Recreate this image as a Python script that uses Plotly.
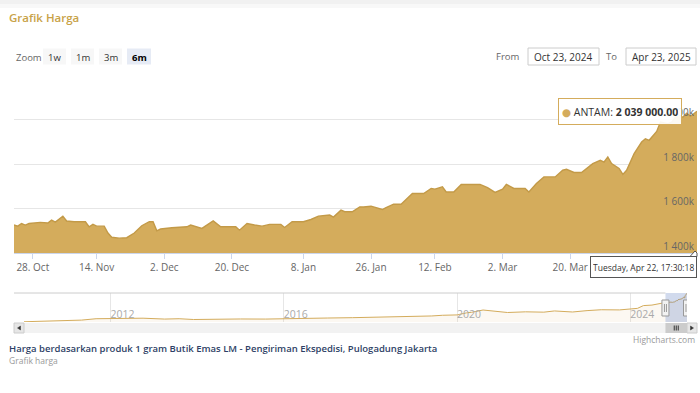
import plotly.graph_objects as go
import pandas as pd

# ---------------- data ----------------
main_dates = [
    "2024-10-23", "2024-10-24", "2024-10-25", "2024-10-26", "2024-10-27", "2024-10-30",
    "2024-11-01", "2024-11-02", "2024-11-03", "2024-11-05", "2024-11-06", "2024-11-08",
    "2024-11-11", "2024-11-12", "2024-11-13", "2024-11-14", "2024-11-16", "2024-11-17",
    "2024-11-18", "2024-11-20", "2024-11-22", "2024-11-24", "2024-11-26", "2024-11-28",
    "2024-11-29", "2024-11-30", "2024-12-01", "2024-12-04", "2024-12-08", "2024-12-09",
    "2024-12-12", "2024-12-15", "2024-12-17", "2024-12-21", "2024-12-22", "2024-12-24",
    "2024-12-26", "2024-12-28", "2024-12-30", "2025-01-02", "2025-01-03", "2025-01-05",
    "2025-01-08", "2025-01-10", "2025-01-12", "2025-01-15", "2025-01-16", "2025-01-18",
    "2025-01-19", "2025-01-21", "2025-01-23", "2025-01-24", "2025-01-26", "2025-01-29",
    "2025-01-30", "2025-02-01", "2025-02-03", "2025-02-05", "2025-02-06", "2025-02-09",
    "2025-02-11", "2025-02-12", "2025-02-14", "2025-02-15", "2025-02-17", "2025-02-19",
    "2025-02-24", "2025-02-26", "2025-02-28", "2025-03-02", "2025-03-03", "2025-03-05",
    "2025-03-08", "2025-03-09", "2025-03-11", "2025-03-13", "2025-03-16", "2025-03-18",
    "2025-03-19", "2025-03-21", "2025-03-23", "2025-03-26", "2025-03-28", "2025-03-29",
    "2025-03-30", "2025-03-31", "2025-04-02", "2025-04-03", "2025-04-04", "2025-04-06",
    "2025-04-08", "2025-04-09", "2025-04-10", "2025-04-12", "2025-04-13", "2025-04-15",
    "2025-04-16", "2025-04-17", "2025-04-19", "2025-04-20", "2025-04-21", "2025-04-22 17:30:18",
]
main_values = [
    1526000, 1521000, 1533000, 1526000, 1533000, 1538000,
    1535000, 1548000, 1539000, 1566000, 1544000, 1541000,
    1541000, 1518000, 1529000, 1521000, 1521000, 1490000,
    1471000, 1467000, 1469000, 1490000, 1523000, 1541000,
    1541000, 1500000, 1508000, 1514000, 1518000, 1526000,
    1511000, 1545000, 1518000, 1518000, 1503000, 1533000,
    1526000, 1521000, 1529000, 1529000, 1515000, 1541000,
    1541000, 1551000, 1566000, 1571000, 1562000, 1593000,
    1586000, 1586000, 1608000, 1607000, 1611000, 1596000,
    1605000, 1620000, 1620000, 1653000, 1668000, 1668000,
    1691000, 1688000, 1698000, 1675000, 1675000, 1709000,
    1709000, 1695000, 1673000, 1688000, 1709000, 1691000,
    1691000, 1675000, 1713000, 1743000, 1743000, 1773000,
    1777000, 1763000, 1763000, 1803000, 1818000, 1810000,
    1833000, 1803000, 1781000, 1754000, 1773000, 1848000,
    1900000, 1915000, 1908000, 1948000, 1990000, 1983000,
    1990000, 2013000, 2013000, 2030000, 2016000, 2039000,
]

# long history shown in the navigator (before the zoomed window)
hist_dates = [
    "2010-01-01", "2010-07-01", "2011-01-01", "2011-05-01", "2011-09-01", "2012-01-01",
    "2012-06-01", "2012-10-01", "2013-04-01", "2013-08-01", "2013-12-01", "2014-06-01",
    "2015-01-01", "2015-08-01", "2016-01-01", "2016-08-01", "2017-01-01", "2017-08-01",
    "2018-01-01", "2018-08-01", "2019-01-01", "2019-06-01", "2019-09-01", "2020-01-01",
    "2020-03-20", "2020-05-01", "2020-08-07", "2020-11-01", "2021-03-01", "2021-08-01",
    "2022-01-01", "2022-04-01", "2022-09-01", "2023-01-01", "2023-05-01", "2023-10-01",
    "2023-12-28", "2024-03-01", "2024-04-20", "2024-07-01", "2024-09-15",
]
hist_values = [
    385000, 420000, 440000, 480000, 560000, 560000,
    560000, 590000, 540000, 560000, 515000, 540000,
    545000, 540000, 560000, 620000, 600000, 620000,
    640000, 640000, 675000, 720000, 760000, 780000,
    900000, 930000, 1065000, 1000000, 920000, 960000,
    940000, 1010000, 950000, 1030000, 1080000, 1070000,
    1140000, 1160000, 1320000, 1350000, 1450000,
]

x_tick_dates = ["2024-10-28", "2024-11-14", "2024-12-02", "2024-12-20", "2025-01-08",
                "2025-01-26", "2025-02-12", "2025-03-02", "2025-03-20"]
x_tick_text = ["28. Oct", "14. Nov", "2. Dec", "20. Dec", "8. Jan",
               "26. Jan", "12. Feb", "2. Mar", "20. Mar"]
y_tick_values = [1400000, 1600000, 1800000, 2000000, 2200000]
y_tick_text = ["1 400k", "1 600k", "1 800k", "2 000k", ""]
nav_tick_dates = ["2012-01-01", "2016-01-01", "2020-01-01", "2024-01-01"]
nav_tick_text = ["2012", "2016", "2020", "2024"]

range_buttons = ["1w", "1m", "3m", "6m"]
selected_button = "6m"
from_text = "Oct 23, 2024"
to_text = "Apr 23, 2025"
series_name = "ANTAM"
crosshair_text = "Tuesday, Apr 22, 17:30:18"
title_text = "Grafik Harga"
caption_text = "Harga berdasarkan produk 1 gram Butik Emas LM - Pengiriman Ekspedisi, Pulogadung Jakarta"
subcaption_text = "Grafik harga"
credit_text = "Highcharts.com"

# ---------------- styling ----------------
W, H = 700, 393
GOLD = "#d4ac5c"
GOLD_LINE = "#c39a48"
FONT = "Open Sans, DejaVu Sans, sans-serif"


def px(x):
    return x / W


def py(y):
    return 1 - y / H


# main plot box (pixels)
L, R, T, B = 14, 697, 75.5, 253
# navigator box
NL, NR, NT, NB = 24, 687, 293, 322

fig = go.Figure()

fig.add_trace(go.Scatter(
    x=main_dates, y=main_values, mode="lines", name=series_name,
    line=dict(color=GOLD_LINE, width=1.4), fill="tozeroy", fillcolor=GOLD,
    xaxis="x", yaxis="y", hoverinfo="x+y",
))

nav_x = hist_dates + main_dates
nav_y = hist_values + main_values
fig.add_trace(go.Scatter(
    x=nav_x, y=nav_y, mode="lines", line=dict(color=GOLD, width=1),
    fill="tozeroy", fillcolor="rgba(212,172,92,0.08)",
    xaxis="x2", yaxis="y2", hoverinfo="skip",
))

shapes = []
annotations = []

# top page shadow
shapes.append(dict(type="rect", xref="paper", yref="paper", x0=0, x1=1, y0=py(4), y1=1,
                   fillcolor="#f1f1f1", line=dict(width=0), layer="below"))
shapes.append(dict(type="rect", xref="paper", yref="paper", x0=0, x1=1, y0=py(8), y1=py(4),
                   fillcolor="#f8f8f8", line=dict(width=0), layer="below"))

# title
annotations.append(dict(x=px(7), y=py(18), xref="paper", yref="paper", text=title_text,
                        showarrow=False, xanchor="left", yanchor="middle",
                        font=dict(family=FONT, size=11.5, color="#c8a248", weight=600)))

# range selector
annotations.append(dict(x=px(14), y=py(57), xref="paper", yref="paper", text="Zoom",
                        showarrow=False, xanchor="left", yanchor="middle",
                        font=dict(family=FONT, size=9.5, color="#666666")))
btn_px = [(43, 66), (71, 94), (99, 122), (127, 151)]
for (bx0, bx1), lab in zip(btn_px, range_buttons):
    sel = lab == selected_button
    shapes.append(dict(type="rect", xref="paper", yref="paper", x0=px(bx0), x1=px(bx1),
                       y0=py(64.5), y1=py(48.5), fillcolor="#e6ebf5" if sel else "#f7f7f7",
                       line=dict(width=0)))
    annotations.append(dict(x=px((bx0 + bx1) / 2), y=py(57), xref="paper", yref="paper",
                            text=f"<b>{lab}</b>" if sel else lab, showarrow=False,
                            xanchor="center", yanchor="middle",
                            font=dict(family=FONT, size=9.5, color="#000000" if sel else "#333333")))

# from / to inputs
annotations.append(dict(x=px(522), y=py(56.5), xref="paper", yref="paper", text="From",
                        showarrow=False, xanchor="right", yanchor="middle",
                        font=dict(family=FONT, size=9.5, color="#666666")))
annotations.append(dict(x=px(619), y=py(56.5), xref="paper", yref="paper", text="To",
                        showarrow=False, xanchor="right", yanchor="middle",
                        font=dict(family=FONT, size=9.5, color="#666666")))
for (bx0, bx1), txt in [((528, 599), from_text), ((626, 696), to_text)]:
    shapes.append(dict(type="rect", xref="paper", yref="paper", x0=px(bx0), x1=px(bx1),
                       y0=py(65), y1=py(48), fillcolor="#ffffff",
                       line=dict(color="#cccccc", width=1)))
    annotations.append(dict(x=px((bx0 + bx1) / 2), y=py(56.5), xref="paper", yref="paper",
                            text=txt, showarrow=False, xanchor="center", yanchor="middle",
                            font=dict(family=FONT, size=10, color="#333333")))

# navigator mask, outline, handles
mask_start = main_dates[0]
mask_end = main_dates[-1]
shapes.append(dict(type="rect", xref="x2", yref="y2 domain", x0=mask_start, x1=mask_end,
                   y0=0, y1=1, fillcolor="rgba(102,133,194,0.3)", line=dict(width=0)))
shapes.append(dict(type="line", xref="paper", yref="paper", x0=px(14), x1=px(NL),
                   y0=py(NT), y1=py(NT), line=dict(color="#cccccc", width=1)))
shapes.append(dict(type="line", xref="x2", yref="paper", x0="2010-01-01", x1=mask_start,
                   y0=py(NT), y1=py(NT), line=dict(color="#cccccc", width=1)))
for anchor in (mask_start, mask_end):
    shapes.append(dict(type="rect", xref="x2", yref="paper", xsizemode="pixel", xanchor=anchor,
                       x0=-3.5, x1=3.5, y0=py(316), y1=py(300), fillcolor="#f2f2f2",
                       line=dict(color="#999999", width=1)))
    for dx in (-1, 1):
        shapes.append(dict(type="line", xref="x2", yref="paper", xsizemode="pixel",
                           xanchor=anchor, x0=dx, x1=dx, y0=py(312), y1=py(304),
                           line=dict(color="#999999", width=1)))

# scrollbar
shapes.append(dict(type="rect", xref="paper", yref="paper", x0=px(14), x1=px(697),
                   y0=py(333), y1=py(323), fillcolor="#f2f2f2", line=dict(width=0)))
shapes.append(dict(type="rect", xref="x2", yref="paper", x0=mask_start, x1=mask_end,
                   y0=py(333), y1=py(323), fillcolor="#cccccc", line=dict(width=0)))
for dx in (-2, 0, 2):
    shapes.append(dict(type="line", xref="x2", yref="paper", xsizemode="pixel",
                       xanchor="2025-01-22", x0=dx, x1=dx, y0=py(330.5), y1=py(325.5),
                       line=dict(color="#333333", width=1)))
for bx0, bx1, pointing in [(14, 24, "left"), (687, 697, "right")]:
    shapes.append(dict(type="rect", xref="paper", yref="paper", x0=px(bx0), x1=px(bx1),
                       y0=py(333), y1=py(323), fillcolor="#e6e6e6",
                       line=dict(color="#cccccc", width=1)))
    cx = (bx0 + bx1) / 2
    if pointing == "left":
        path = f"M {px(cx - 1.5)} {py(328)} L {px(cx + 1.5)} {py(326)} L {px(cx + 1.5)} {py(330)} Z"
    else:
        path = f"M {px(cx + 1.5)} {py(328)} L {px(cx - 1.5)} {py(326)} L {px(cx - 1.5)} {py(330)} Z"
    shapes.append(dict(type="path", xref="paper", yref="paper", path=path,
                       fillcolor="#333333", line=dict(color="#333333", width=0.5)))

# tooltip
val_txt = f"{main_values[-1]:,.2f}".replace(",", " ")
annotations.append(dict(
    x=px(619.5), y=py(111), xref="paper", yref="paper",
    text=f"<span style='color:{GOLD}'>●</span> {series_name}: <b>{val_txt}</b>",
    showarrow=False, xanchor="center", yanchor="middle",
    font=dict(family=FONT, size=10.5, color="#333333"),
    bgcolor="rgba(255,255,255,0.92)", bordercolor=GOLD, borderwidth=1,
    width=116, height=19, borderpad=3,
))

# crosshair label
shapes.append(dict(type="path", xref="paper", yref="paper",
                   path=f"M {px(690)} {py(256.5)} L {px(695)} {py(251)} L {px(697)} {py(253)} L {px(697)} {py(256.5)} Z",
                   fillcolor="#ffffff", line=dict(color="#555555", width=1)))
annotations.append(dict(
    x=px(697), y=py(266.5), xref="paper", yref="paper", text=crosshair_text,
    showarrow=False, xanchor="right", yanchor="middle",
    font=dict(family=FONT, size=8.5, color="#333333"),
    bgcolor="#ffffff", bordercolor="#555555", borderwidth=1, borderpad=2,
    height=16,
))

# captions
annotations.append(dict(x=px(7), y=py(348), xref="paper", yref="paper", text=caption_text,
                        showarrow=False, xanchor="left", yanchor="middle",
                        font=dict(family=FONT, size=9.5, color="#2e3f66", weight=600)))
annotations.append(dict(x=px(7), y=py(360), xref="paper", yref="paper", text=subcaption_text,
                        showarrow=False, xanchor="left", yanchor="middle",
                        font=dict(family=FONT, size=8.5, color="#999999")))
annotations.append(dict(x=px(697), y=py(339), xref="paper", yref="paper", text=credit_text,
                        showarrow=False, xanchor="right", yanchor="middle",
                        font=dict(family=FONT, size=8.5, color="#999999")))

fig.update_layout(
    width=W, height=H, margin=dict(l=0, r=0, t=0, b=0),
    paper_bgcolor="#ffffff", plot_bgcolor="rgba(0,0,0,0)",
    showlegend=False, hovermode="x",
    font=dict(family=FONT, size=10, color="#666666"),
    xaxis=dict(
        domain=[px(L), px(R)], anchor="y",
        range=[main_dates[0], main_dates[-1]],
        tickvals=x_tick_dates, ticktext=x_tick_text,
        ticks="outside", ticklen=5, tickcolor="#ccd6eb",
        showline=True, linecolor="#ccd6eb", showgrid=False, zeroline=False,
        tickfont=dict(family=FONT, size=10, color="#666666"),
    ),
    yaxis=dict(
        domain=[py(B), py(T)], anchor="x", side="right",
        range=[1400000, 2200000],
        tickvals=y_tick_values, ticktext=y_tick_text,
        ticklabelposition="inside top", ticks="",
        showgrid=True, gridcolor="#e6e6e6", gridwidth=1, zeroline=False,
        tickfont=dict(family=FONT, size=10, color="#666666"),
    ),
    xaxis2=dict(
        domain=[px(NL), px(NR)], anchor="y2",
        range=["2010-01-01", main_dates[-1]],
        tickvals=nav_tick_dates, ticktext=nav_tick_text,
        ticklabelposition="inside right", ticks="", ticklabelstandoff=-4,
        showgrid=True, gridcolor="#e6e6e6", zeroline=False, showline=False,
        tickfont=dict(family=FONT, size=10.5, color="#aaaaaa"),
    ),
    yaxis2=dict(
        domain=[py(NB), py(NT)], anchor="x2",
        range=[370000, 2050000], showgrid=False, showticklabels=False,
        zeroline=False, ticks="",
    ),
    shapes=shapes, annotations=annotations,
)

fig.write_html("out.html", config={"displayModeBar": False},
               post_script="document.body.style.margin='0px';document.body.style.overflow='hidden';")
